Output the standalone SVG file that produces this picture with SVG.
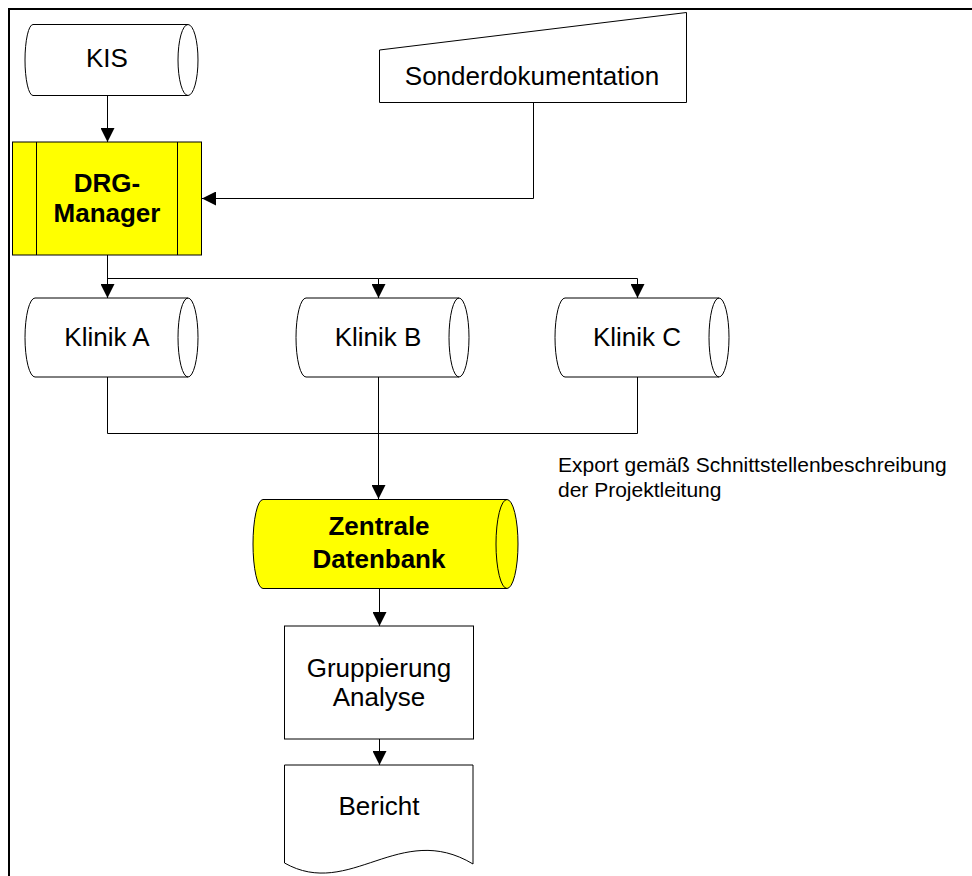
<svg xmlns="http://www.w3.org/2000/svg" width="972" height="876" viewBox="0 0 972 876">
<style>
.s{fill:#fff;stroke:#000;stroke-width:1}
.y{fill:#ffff00;stroke:#000;stroke-width:1}
.t{font-family:"Liberation Sans",Arial,sans-serif;font-size:26px;fill:#000;text-anchor:middle}
.b{font-weight:bold}
.n{font-family:"Liberation Sans",Arial,sans-serif;font-size:21px;fill:#000}
.c{fill:none;stroke:#000;stroke-width:1}
</style>
<defs>
<marker id="ah" markerUnits="userSpaceOnUse" markerWidth="14" markerHeight="14" refX="14" refY="7" orient="auto">
<path d="M0,0 L14,7 L0,14 z" fill="#000"/>
</marker>
</defs>
<rect width="972" height="876" fill="#fff"/>
<path d="M9,876 V9 H972" fill="none" stroke="#000" stroke-width="2"/>

<g id="connectors">
<path class="c" d="M107.5,95 V142" marker-end="url(#ah)"/>
<path class="c" d="M533.5,103 V198.5 H202" marker-end="url(#ah)"/>
<path class="c" d="M107.5,255 V298" marker-end="url(#ah)"/>
<path class="c" d="M107.5,278.5 H378.5 V298" marker-end="url(#ah)"/>
<path class="c" d="M378.5,278.5 H637.5 V298" marker-end="url(#ah)"/>
<path class="c" d="M107.5,377 V433.5 H637.5 V377"/>
<path class="c" d="M378.5,377 V499" marker-end="url(#ah)"/>
<path class="c" d="M379.5,588 V626" marker-end="url(#ah)"/>
<path class="c" d="M379.5,739 V765" marker-end="url(#ah)"/>
</g>

<g id="kis">
<path class="s" d="M33,24.5 H188 A10,35.5 0 0 1 188,95.5 H33 A8,35.5 0 0 1 33,24.5 Z"/>
<path class="c" d="M188,24.5 A10,35.5 0 0 0 188,95.5"/>
<text class="t" x="107" y="67">KIS</text>
</g>

<g id="sonderdokumentation">
<path class="s" d="M379.5,50 L686.5,12.5 V102.5 H379.5 Z"/>
<text class="t" x="532" y="85">Sonderdokumentation</text>
</g>

<g id="drg-manager">
<rect class="y" x="12.5" y="142" width="189" height="113"/>
<path class="c" d="M36.5,142 V255 M177.5,142 V255"/>
<text class="t b" x="107" y="191.5">DRG-</text>
<text class="t b" x="107" y="221.5">Manager</text>
</g>

<g id="klinik-a">
<path class="s" d="M35,298 H188 A10,39.5 0 0 1 188,377 H35 A10,39.5 0 0 1 35,298 Z"/>
<path class="c" d="M188,298 A10,39.5 0 0 0 188,377"/>
<text class="t" x="107" y="346">Klinik A</text>
</g>

<g id="klinik-b">
<path class="s" d="M306,298 H459 A10,39.5 0 0 1 459,377 H306 A10,39.5 0 0 1 306,298 Z"/>
<path class="c" d="M459,298 A10,39.5 0 0 0 459,377"/>
<text class="t" x="378" y="346">Klinik B</text>
</g>

<g id="klinik-c">
<path class="s" d="M565,298 H719 A10,39.5 0 0 1 719,377 H565 A10,39.5 0 0 1 565,298 Z"/>
<path class="c" d="M719,298 A10,39.5 0 0 0 719,377"/>
<text class="t" x="637" y="346">Klinik C</text>
</g>

<g id="export-note">
<text class="n" x="558" y="471.5">Export gemäß Schnittstellenbeschreibung</text>
<text class="n" x="558" y="497">der Projektleitung</text>
</g>

<g id="zentrale-datenbank">
<path class="y" d="M263,499.5 H507 A11,44.5 0 0 1 507,588.5 H263 A10,44.5 0 0 1 263,499.5 Z"/>
<path class="c" d="M507,499.5 A11,44.5 0 0 0 507,588.5"/>
<text class="t b" x="379" y="535">Zentrale</text>
<text class="t b" x="379" y="567.5">Datenbank</text>
</g>

<g id="gruppierung-analyse">
<rect class="s" x="284.5" y="626" width="189" height="113"/>
<text class="t" x="379" y="677">Gruppierung</text>
<text class="t" x="379" y="706">Analyse</text>
</g>

<g id="bericht">
<path class="s" d="M284.5,765 H473 V864 C400,820 350,900 284.5,863 Z"/>
<text class="t" x="379" y="815">Bericht</text>
</g>
</svg>
